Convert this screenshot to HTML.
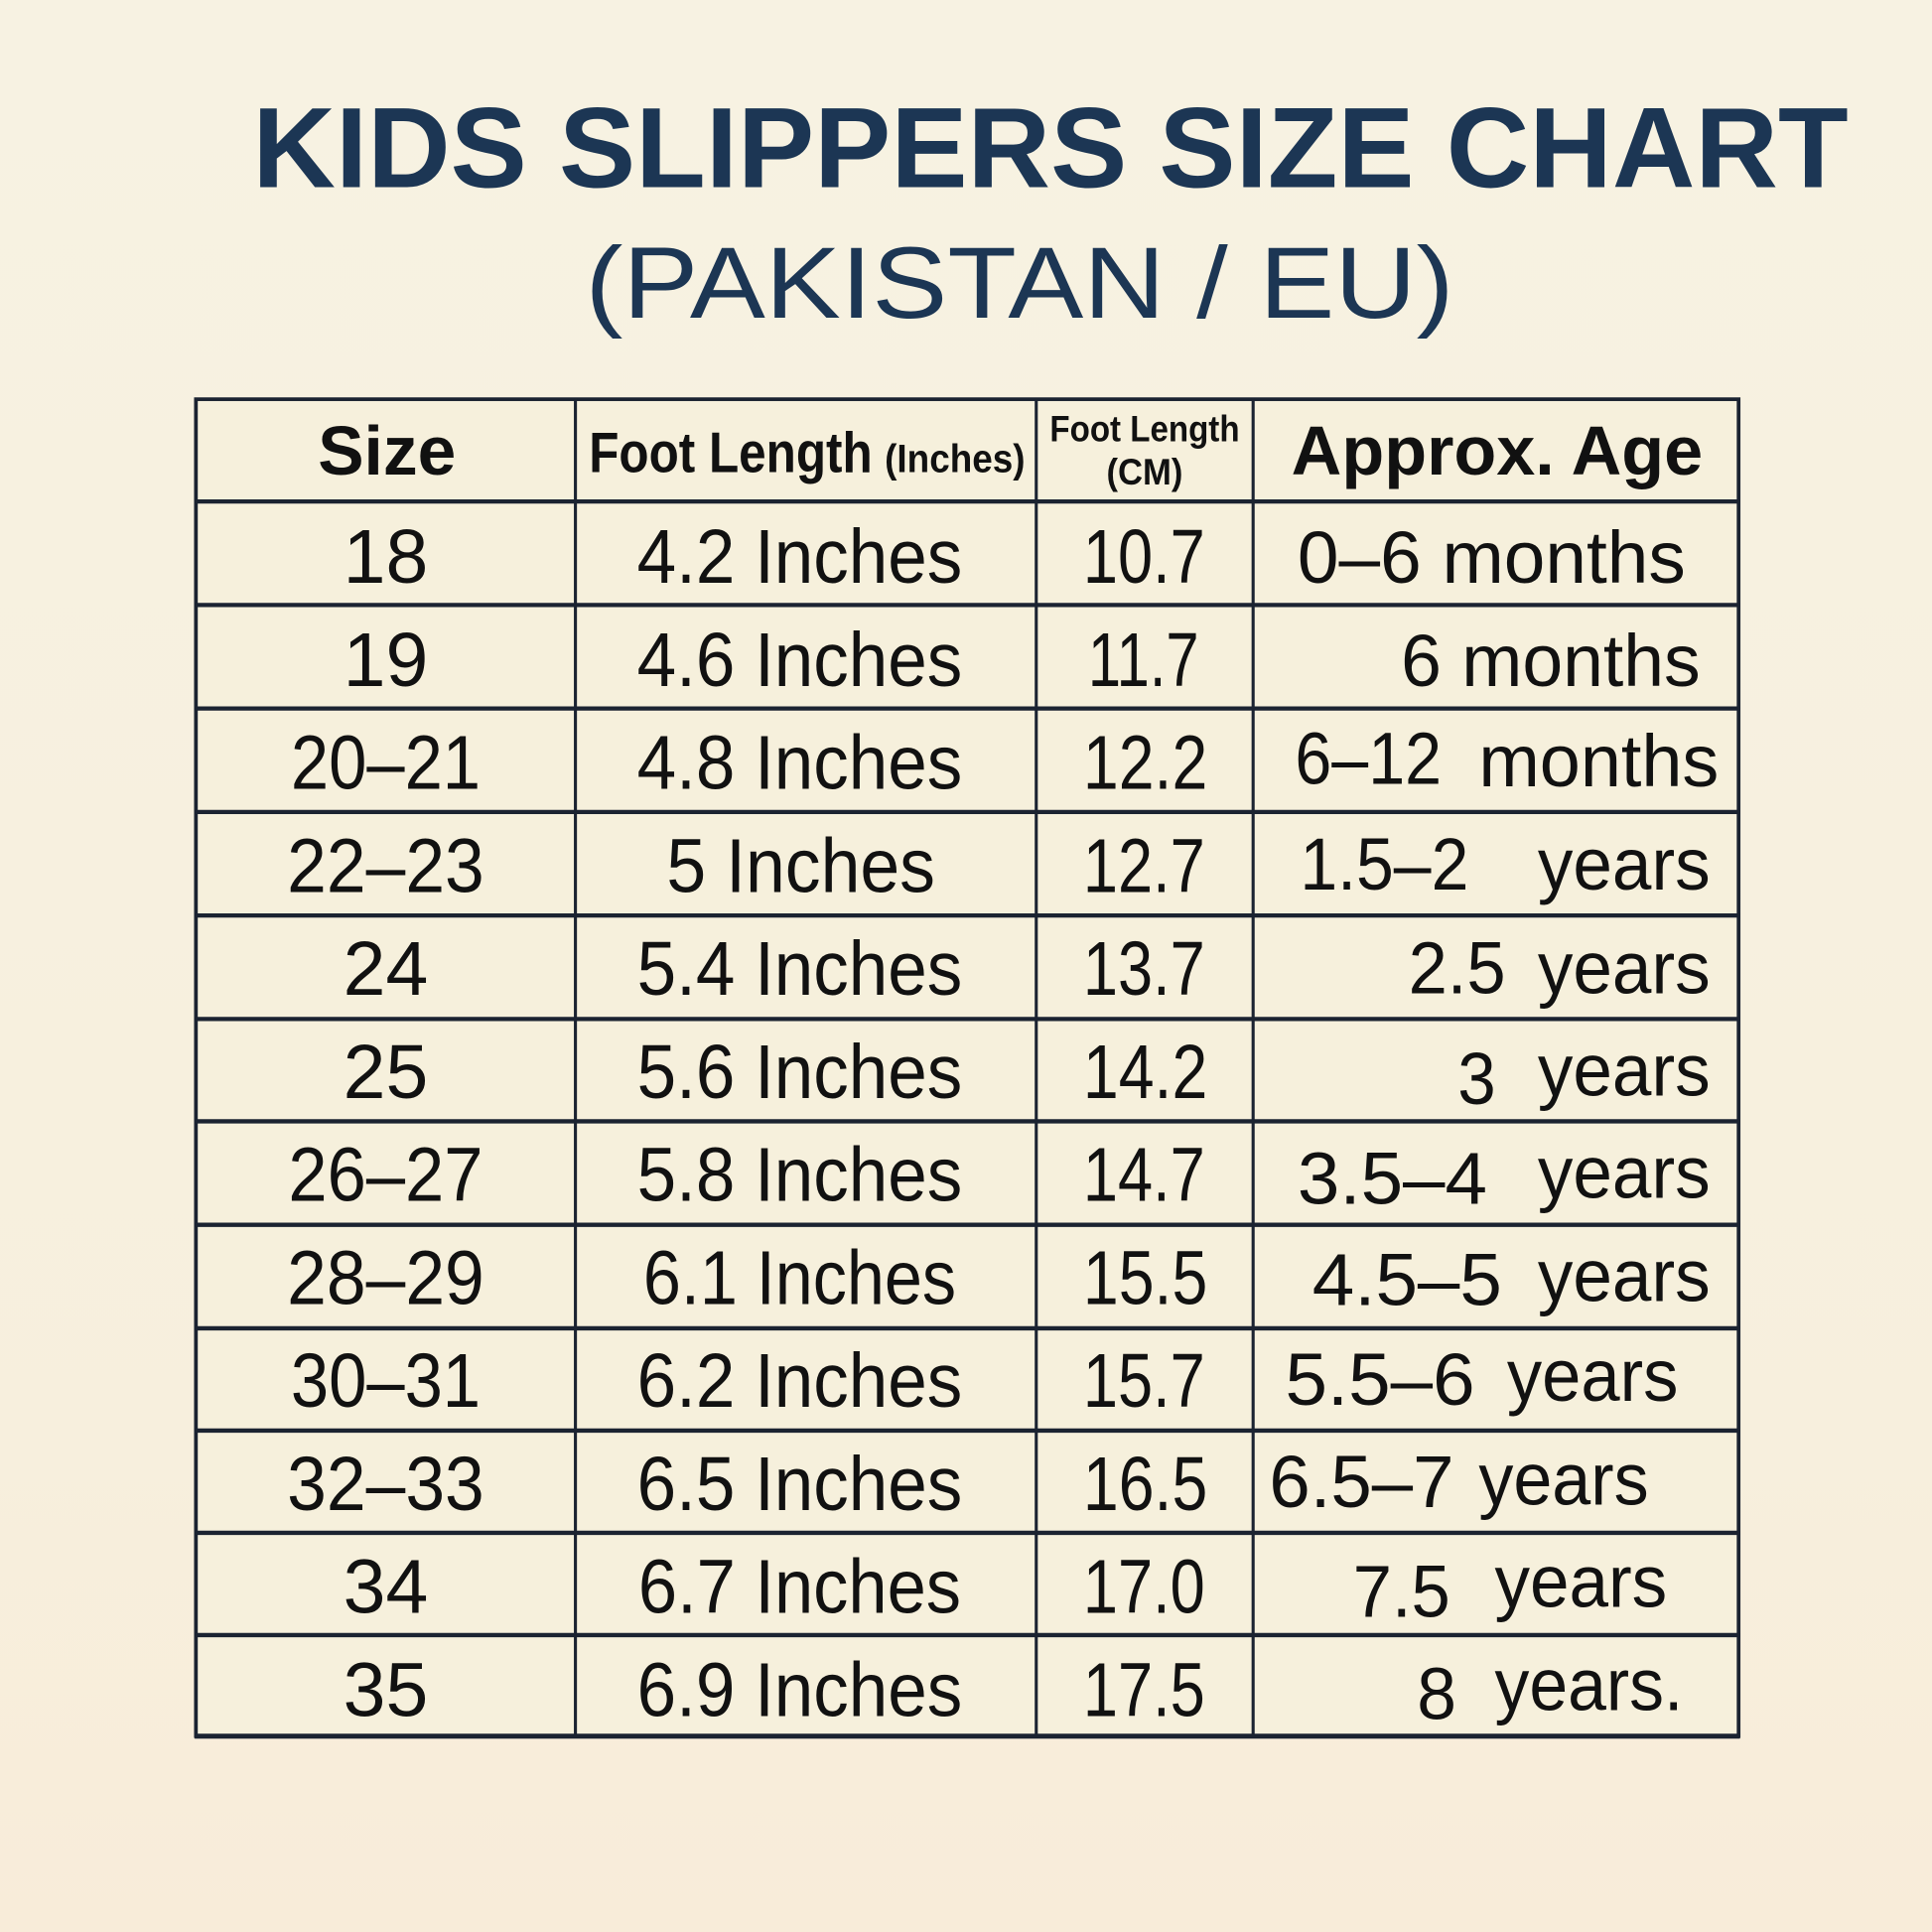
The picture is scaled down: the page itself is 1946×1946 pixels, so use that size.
<!DOCTYPE html>
<html><head><meta charset="utf-8"><style>
html,body{margin:0;padding:0;background:#f7f1e0;}
svg{display:block}
</style></head><body>
<svg width="1946" height="1946" viewBox="0 0 1946 1946" xmlns="http://www.w3.org/2000/svg">
<defs>
<linearGradient id="bg" x1="0" y1="0" x2="0" y2="1">
<stop offset="0" stop-color="#f7f2e2"/><stop offset="0.75" stop-color="#f7efdd"/><stop offset="1" stop-color="#f8ecd9"/>
</linearGradient>
</defs>
<rect width="1946" height="1946" fill="url(#bg)"/>
<g transform="scale(1.2411)">
<!-- Title -->
<text x="205" y="152" font-family="Liberation Sans, sans-serif" font-weight="bold" font-size="93" fill="#1c3654" textLength="1295" lengthAdjust="spacingAndGlyphs">KIDS SLIPPERS SIZE CHART</text>
<text x="475" y="258" font-family="Liberation Sans, sans-serif" font-size="82" fill="#1c3654" textLength="705" lengthAdjust="spacingAndGlyphs">(PAKISTAN / EU)</text>
<!-- table bg -->
<rect x="158" y="323" width="1254" height="1087" fill="#f6f0dc"/>
<g stroke="#1b2331">
<rect x="159" y="324" width="1252" height="1085" fill="none" stroke-width="3"/>
<line x1="467" y1="323" x2="467" y2="1410" stroke-width="2.5"/>
<line x1="841" y1="323" x2="841" y2="1410" stroke-width="2.5"/>
<line x1="1017" y1="323" x2="1017" y2="1410" stroke-width="2.5"/>
<g stroke-width="3.5">
<line x1="158" y1="407" x2="1412" y2="407"/>
<line x1="158" y1="491" x2="1412" y2="491"/>
<line x1="158" y1="575" x2="1412" y2="575"/>
<line x1="158" y1="659" x2="1412" y2="659"/>
<line x1="158" y1="743" x2="1412" y2="743"/>
<line x1="158" y1="827" x2="1412" y2="827"/>
<line x1="158" y1="910" x2="1412" y2="910"/>
<line x1="158" y1="994" x2="1412" y2="994"/>
<line x1="158" y1="1078" x2="1412" y2="1078"/>
<line x1="158" y1="1161" x2="1412" y2="1161"/>
<line x1="158" y1="1244" x2="1412" y2="1244"/>
<line x1="158" y1="1327" x2="1412" y2="1327"/>
<line x1="158" y1="1409" x2="1412" y2="1409" stroke-width="4"/>
</g>
</g>
<!-- header -->
<g font-family="Liberation Sans, sans-serif" font-weight="bold" fill="#111">
<text x="258" y="385" font-size="56" textLength="112" lengthAdjust="spacingAndGlyphs">Size</text>
<text x="478" y="383" font-size="46" textLength="230" lengthAdjust="spacingAndGlyphs">Foot Length</text>
<text x="718" y="383" font-size="32" textLength="114" lengthAdjust="spacingAndGlyphs">(Inches)</text>
<text x="852" y="358" font-size="30" textLength="154" lengthAdjust="spacingAndGlyphs">Foot Length</text>
<text x="898" y="393" font-size="30" textLength="62" lengthAdjust="spacingAndGlyphs">(CM)</text>
<text x="1048" y="385" font-size="56" textLength="334" lengthAdjust="spacingAndGlyphs">Approx. Age</text>
</g>
<!-- body -->
<g font-family="Liberation Sans, sans-serif" font-size="62" fill="#111" lengthAdjust="spacingAndGlyphs">
<g text-anchor="middle">
<text x="313" y="473">18</text>
<text x="313" y="556.6">19</text>
<text x="313" y="640.2" textLength="154" lengthAdjust="spacingAndGlyphs">20–21</text>
<text x="313" y="723.8" textLength="160" lengthAdjust="spacingAndGlyphs">22–23</text>
<text x="313" y="807.4">24</text>
<text x="313" y="891">25</text>
<text x="313" y="974.6" textLength="158" lengthAdjust="spacingAndGlyphs">26–27</text>
<text x="313" y="1058.2" textLength="160" lengthAdjust="spacingAndGlyphs">28–29</text>
<text x="313" y="1141.8" textLength="154" lengthAdjust="spacingAndGlyphs">30–31</text>
<text x="313" y="1225.4" textLength="160" lengthAdjust="spacingAndGlyphs">32–33</text>
<text x="313" y="1309">34</text>
<text x="313" y="1392.6">35</text>
</g>
<g>
<text x="517" y="473" textLength="264" lengthAdjust="spacingAndGlyphs">4.2 Inches</text>
<text x="517" y="556.6" textLength="264" lengthAdjust="spacingAndGlyphs">4.6 Inches</text>
<text x="517" y="640.2" textLength="264" lengthAdjust="spacingAndGlyphs">4.8 Inches</text>
<text x="541" y="723.8" textLength="218" lengthAdjust="spacingAndGlyphs">5 Inches</text>
<text x="517" y="807.4" textLength="264" lengthAdjust="spacingAndGlyphs">5.4 Inches</text>
<text x="517" y="891" textLength="264" lengthAdjust="spacingAndGlyphs">5.6 Inches</text>
<text x="517" y="974.6" textLength="264" lengthAdjust="spacingAndGlyphs">5.8 Inches</text>
<text x="522" y="1058.2" textLength="254" lengthAdjust="spacingAndGlyphs">6.1 Inches</text>
<text x="517" y="1141.8" textLength="264" lengthAdjust="spacingAndGlyphs">6.2 Inches</text>
<text x="517" y="1225.4" textLength="264" lengthAdjust="spacingAndGlyphs">6.5 Inches</text>
<text x="518" y="1309" textLength="262" lengthAdjust="spacingAndGlyphs">6.7 Inches</text>
<text x="517" y="1392.6" textLength="264" lengthAdjust="spacingAndGlyphs">6.9 Inches</text>
</g>
<g>
<text x="879" y="473" textLength="99" lengthAdjust="spacingAndGlyphs">10.7</text>
<text x="883" y="556.6" textLength="90" lengthAdjust="spacingAndGlyphs">11.7</text>
<text x="879" y="640.2" textLength="101" lengthAdjust="spacingAndGlyphs">12.2</text>
<text x="879" y="723.8" textLength="99" lengthAdjust="spacingAndGlyphs">12.7</text>
<text x="879" y="807.4" textLength="99" lengthAdjust="spacingAndGlyphs">13.7</text>
<text x="879" y="891" textLength="101" lengthAdjust="spacingAndGlyphs">14.2</text>
<text x="879" y="974.6" textLength="99" lengthAdjust="spacingAndGlyphs">14.7</text>
<text x="879" y="1058.2" textLength="101" lengthAdjust="spacingAndGlyphs">15.5</text>
<text x="879" y="1141.8" textLength="99" lengthAdjust="spacingAndGlyphs">15.7</text>
<text x="879" y="1225.4" textLength="101" lengthAdjust="spacingAndGlyphs">16.5</text>
<text x="879" y="1309" textLength="99" lengthAdjust="spacingAndGlyphs">17.0</text>
<text x="879" y="1392.6" textLength="99" lengthAdjust="spacingAndGlyphs">17.5</text>
</g>
<g font-size="60">
<text x="1053" y="473" textLength="315" lengthAdjust="spacingAndGlyphs">0–6 months</text>
<text x="1137" y="556.6" textLength="243" lengthAdjust="spacingAndGlyphs">6 months</text>
<text x="1051" y="636" textLength="119" lengthAdjust="spacingAndGlyphs">6–12</text>
<text x="1200" y="638" textLength="195" lengthAdjust="spacingAndGlyphs">months</text>
<text x="1055" y="722" textLength="137" lengthAdjust="spacingAndGlyphs">1.5–2</text>
<text x="1248" y="722" textLength="140" lengthAdjust="spacingAndGlyphs">years</text>
<text x="1143" y="806" textLength="79" lengthAdjust="spacingAndGlyphs">2.5</text>
<text x="1248" y="806" textLength="140" lengthAdjust="spacingAndGlyphs">years</text>
<text x="1183" y="896" textLength="31" lengthAdjust="spacingAndGlyphs">3</text>
<text x="1248" y="889" textLength="140" lengthAdjust="spacingAndGlyphs">years</text>
<text x="1053" y="977" textLength="154" lengthAdjust="spacingAndGlyphs">3.5–4</text>
<text x="1248" y="972" textLength="140" lengthAdjust="spacingAndGlyphs">years</text>
<text x="1065" y="1059" textLength="154" lengthAdjust="spacingAndGlyphs">4.5–5</text>
<text x="1248" y="1056" textLength="140" lengthAdjust="spacingAndGlyphs">years</text>
<text x="1043" y="1140" textLength="154" lengthAdjust="spacingAndGlyphs">5.5–6</text>
<text x="1223" y="1137" textLength="139" lengthAdjust="spacingAndGlyphs">years</text>
<text x="1030" y="1223" textLength="150" lengthAdjust="spacingAndGlyphs">6.5–7</text>
<text x="1200" y="1221" textLength="138" lengthAdjust="spacingAndGlyphs">years</text>
<text x="1098" y="1312" textLength="79" lengthAdjust="spacingAndGlyphs">7.5</text>
<text x="1213" y="1304" textLength="140" lengthAdjust="spacingAndGlyphs">years</text>
<text x="1150" y="1395" textLength="32" lengthAdjust="spacingAndGlyphs">8</text>
<text x="1213" y="1388" textLength="153" lengthAdjust="spacingAndGlyphs">years.</text>
</g>
</g>
</g>
</svg>
</body></html>
